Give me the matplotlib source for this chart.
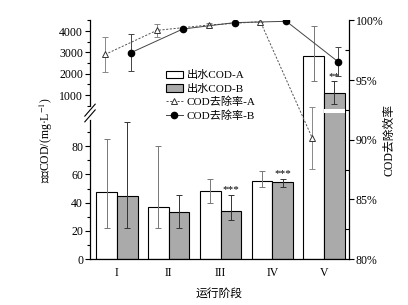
import numpy as np
import matplotlib
matplotlib.use('Agg')
import matplotlib.pyplot as plt
from matplotlib.lines import Line2D
from matplotlib.patches import Patch, Rectangle
import matplotlib.transforms as mtrans
from matplotlib.ticker import FixedLocator, FixedFormatter

plt.rcParams['font.family'] = ['Liberation Serif', 'Noto Sans CJK SC', 'DejaVu Sans']
plt.rcParams['mathtext.fontset'] = 'stix'

# ---------------- data ----------------
categories = ['I', 'II', 'III', 'IV', 'V']
cod_a = np.array([47.7, 37.0, 48.0, 55.5, 2840.0])
cod_a_low = np.array([22.0, 22.0, 39.5, 51.0, 1650.0])
cod_a_high = np.array([85.0, 80.0, 56.5, 62.5, 4250.0])
cod_b = np.array([45.0, 33.0, 34.0, 54.4, 1080.0])
cod_b_low = np.array([22.0, 22.0, 27.7, 51.3, 580.0])
cod_b_high = np.array([97.0, 45.4, 45.2, 56.5, 1650.0])
rem_a = np.array([97.14, 99.16, 99.61, 99.89, 90.14])
rem_a_err = np.array([1.48, 0.52, 0.15, 0.0, 2.6])
rem_b = np.array([97.29, 99.27, 99.81, 99.92, 96.53])
rem_b_err = np.array([1.55, 0.0, 0.0, 0.0, 1.23])
star_labels = ['', '', '***', '***', '**']
star_y = np.array([np.nan, np.nan, 49.5, 60.5, 1840.0])
left_ticks = [0, 20, 40, 60, 80, 1000, 2000, 3000, 4000]
left_minor = [10, 30, 50, 70, 90, 500, 1500, 2500, 3500, 4500]
right_ticks = [80, 85, 90, 95, 100]
right_minor = [82.5, 87.5, 92.5, 97.5]

# ---------------- broken-axis scale ----------------
A, K = 101.18, 0.015128
F200 = A + 200 * K
BS = (F200 - 100) / 100.0

def fwd(v):
    v = np.asarray(v, dtype=float)
    return np.where(v <= 100, v, np.where(v <= 200, 100 + (v - 100) * BS, A + K * v))

def inv(f):
    f = np.asarray(f, dtype=float)
    return np.where(f <= 100, f, np.where(f <= F200, 100 + (f - 100) / BS, (f - A) / K))

fig = plt.figure(figsize=(4.08, 3.05), dpi=100)
ax = fig.add_axes([90 / 408, 46 / 305, 259 / 408, 238.65 / 305])
ax.set_yscale('function', functions=(fwd, inv))
ax.set_ylim(0, 4500)
x = np.arange(1, len(categories) + 1)
ax.set_xlim(0.48, 5.48)

bw = 0.4
ax.bar(x - 0.2, cod_a, bw, color='white', edgecolor='black', linewidth=0.8, zorder=2)
ax.bar(x + 0.2, cod_b, bw, color='#aaaaaa', edgecolor='black', linewidth=0.8, zorder=2)
ax.errorbar(x - 0.2, cod_a, yerr=[cod_a - cod_a_low, cod_a_high - cod_a], fmt='none',
            ecolor='#777777', elinewidth=0.7, capsize=2.5, capthick=0.7, zorder=3)
ax.errorbar(x + 0.2, cod_b, yerr=[cod_b - cod_b_low, cod_b_high - cod_b], fmt='none',
            ecolor='#333333', elinewidth=0.7, capsize=2.5, capthick=0.7, zorder=3)
for xi, lab, yy in zip(x, star_labels, star_y):
    if lab:
        ax.text(xi + 0.2, yy, lab, ha='center', va='center', fontsize=8, zorder=4)

# break gap in bar V (gray)
bt = mtrans.blended_transform_factory(ax.transData, ax.transAxes)
ax.add_patch(Rectangle((x[-1] - 0.01, 0.61), 0.42, 0.017, transform=bt,
                       facecolor='white', edgecolor='none', zorder=5, clip_on=False))

ax.yaxis.set_major_locator(FixedLocator(left_ticks))
ax.yaxis.set_major_formatter(FixedFormatter([str(t) for t in left_ticks]))
ax.yaxis.set_minor_locator(FixedLocator(left_minor))
ax.tick_params(axis='y', which='major', direction='out', length=3.5, width=0.8, labelsize=8.5, pad=1.5)
ax.tick_params(axis='y', which='minor', direction='out', length=2, width=0.8)
ax.set_xticks(x)
ax.set_xticklabels(categories, fontsize=8.5)
ax.tick_params(axis='x', length=0, pad=6)
ax.spines['top'].set_visible(False)
ax.spines['right'].set_visible(False)
for s in ('left', 'bottom'):
    ax.spines[s].set_linewidth(0.9)

# axis break marks
yb = (259 - 113) / 238.65
ax.plot([0, 0], [yb - 0.02, yb + 0.02], transform=ax.transAxes, color='white', lw=2, clip_on=False, zorder=6)
for dy in (-0.012, 0.012):
    ax.plot([-0.02, 0.02], [yb + dy - 0.025, yb + dy + 0.025], transform=ax.transAxes,
            color='black', lw=0.8, clip_on=False, zorder=7)

ax.set_xlabel('运行阶段', fontsize=8.5, labelpad=6)
ax.set_ylabel(r'出水COD/(mg·L$^{-1}$)', fontsize=8.5, labelpad=3)

# ---------------- right axis ----------------
ax2 = ax.twinx()
ax2.set_ylim(80, 100)
ax2.errorbar(x - 0.23, rem_a, yerr=rem_a_err, fmt='^', ls=(0, (2.2, 1.6)), color='#555555',
             lw=0.7, mfc='white', mec='#333333', ms=5, mew=0.7,
             ecolor='#888888', elinewidth=0.7, capsize=2.5, capthick=0.7, zorder=3)
ax2.errorbar(x + 0.27, rem_b, yerr=rem_b_err, fmt='o', ls='-', color='#444444',
             lw=0.7, mfc='black', mec='black', ms=4.5,
             ecolor='#444444', elinewidth=0.7, capsize=2.5, capthick=0.7, zorder=4)
ax2.yaxis.set_major_locator(FixedLocator(right_ticks))
ax2.yaxis.set_major_formatter(FixedFormatter([f'{t}%' for t in right_ticks]))
ax2.yaxis.set_minor_locator(FixedLocator(right_minor))
ax2.tick_params(axis='y', which='major', direction='out', length=3.5, width=0.8, labelsize=8.5, pad=1.5)
ax2.tick_params(axis='y', which='minor', direction='in', length=3, width=0.8)
for s in ('top', 'left', 'bottom'):
    ax2.spines[s].set_visible(False)
ax2.spines['right'].set_linewidth(0.9)
ax2.set_ylabel('COD去除效率', fontsize=8.5, labelpad=0)

handles = [
    Patch(facecolor='white', edgecolor='black', linewidth=0.8),
    Patch(facecolor='#aaaaaa', edgecolor='black', linewidth=0.8),
    Line2D([], [], ls=(0, (2.2, 1.6)), color='#555555', lw=0.7, marker='^', mfc='white',
           mec='#333333', ms=5, mew=0.7),
    Line2D([], [], ls='-', color='#444444', lw=0.7, marker='o', mfc='black', mec='black', ms=4.5),
]
labels = ['出水COD-A', '出水COD-B', 'COD去除率-A', 'COD去除率-B']
ax2.legend(handles, labels, loc='upper left', bbox_to_anchor=(0.293, 0.79), frameon=False,
           fontsize=8, handlelength=1.55, handletextpad=0.3, labelspacing=0.28, borderpad=0,
           borderaxespad=0)

fig.savefig('out.png', dpi=100)
